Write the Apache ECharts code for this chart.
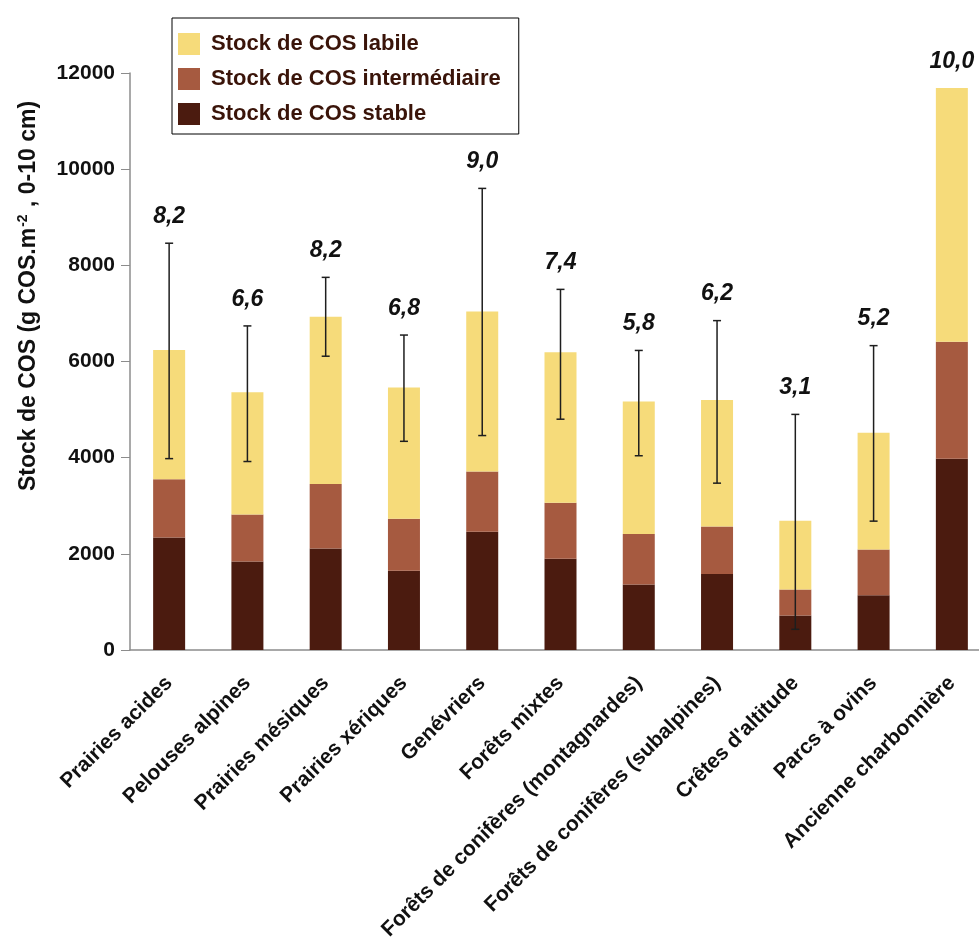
<!DOCTYPE html>
<html>
<head>
<meta charset="utf-8">
<script src="https://cdn.jsdelivr.net/npm/echarts@6/dist/echarts.min.js"></script>
<style>
  html, body { margin: 0; padding: 0; background: #ffffff; overflow: hidden; }
  #chart { width: 1000px; height: 944px; }
</style>
</head>
<body>
<div id="chart"></div>
<script>
// Habitats (catégories de l'axe des abscisses)
const categories = [
  'Prairies acides', 'Pelouses alpines', 'Prairies mésiques', 'Prairies xériques',
  'Genévriers', 'Forêts mixtes', 'Forêts de conifères (montagnardes)',
  'Forêts de conifères (subalpines)', "Crêtes d'altitude", 'Parcs à ovins',
  'Ancienne charbonnière'
];

// Stocks de COS par compartiment (g COS.m-2, 0-10 cm)
const stockStable        = [2340, 1840, 2110, 1650, 2460, 1900, 1360, 1580, 720, 1140, 3980];
const stockIntermediaire = [1210,  980, 1340, 1080, 1250, 1160, 1050,  990, 540,  950, 2430];
const stockLabile        = [2690, 2540, 3480, 2730, 3330, 3130, 2760, 2630, 1430, 2430, 5280];

// Barres d'erreur (bornes basse et haute du stock total)
const errLow  = [3980, 3920, 6110, 4340, 4460, 4800, 4040, 3470, 430, 2680, null];
const errHigh = [8460, 6740, 7750, 6550, 9600, 7500, 6230, 6850, 4900, 6330, null];

// Valeurs annotées au-dessus de chaque barre
const topLabels = ['8,2', '6,6', '8,2', '6,8', '9,0', '7,4', '5,8', '6,2', '3,1', '5,2', '10,0'];

// Graduations de l'axe des ordonnées
const yTicks = { min: 0, max: 12000, interval: 2000 };

const colLabile = '#F6DB7A';
const colInter = '#A65A40';
const colStable = '#4B1B0F';
const ink = '#111111';

const totals = categories.map((_, i) => stockStable[i] + stockIntermediaire[i] + stockLabile[i]);

const errData = categories.map((_, i) => [i, errLow[i], errHigh[i]]).filter(d => d[1] != null);

const labelData = categories.map((_, i) => ({
  value: [i, errHigh[i] != null ? errHigh[i] : totals[i]],
  name: topLabels[i]
}));

const chart = echarts.init(document.getElementById('chart'), null, { renderer: 'canvas' });

const option = {
  backgroundColor: '#ffffff',
  animation: false,
  textStyle: { fontFamily: 'Liberation Sans, Arial, sans-serif' },
  legend: {
    orient: 'vertical',
    left: 172,
    top: 18,
    padding: [15, 18, 9, 6],
    itemWidth: 22,
    itemHeight: 22,
    itemGap: 13,
    borderColor: '#000',
    borderWidth: 1,
    icon: 'rect',
    data: ['Stock de COS labile', 'Stock de COS intermédiaire', 'Stock de COS stable'],
    textStyle: { fontSize: 22, fontWeight: 'bold', color: '#3a1409', padding: [0, 0, 0, 6] }
  },
  graphic: [
    {
      type: 'text',
      x: 29,
      y: 296,
      rotation: Math.PI / 2,
      style: {
        text: '{t|Stock de COS (g COS.m}{s|-2}{t| , 0-10 cm)}',
        align: 'center',
        verticalAlign: 'middle',
        rich: {
          t: { fontSize: 23, fontWeight: 'bold', fill: ink, fontFamily: 'Liberation Sans, Arial, sans-serif' },
          s: { fontSize: 14, fontWeight: 'bold', fill: ink, fontFamily: 'Liberation Sans, Arial, sans-serif', verticalAlign: 'top', padding: [0, 1, 12, 1] }
        }
      }
    }
  ],
  grid: { left: 130, top: 73, width: 861, height: 577, containLabel: false },
  xAxis: {
    type: 'category',
    data: categories,
    axisLine: { lineStyle: { color: '#8c8c8c', width: 1.5 } },
    axisTick: { show: false },
    axisLabel: {
      rotate: 45,
      interval: 0,
      margin: 30,
      fontSize: 21,
      fontWeight: 'bold',
      color: ink
    }
  },
  yAxis: {
    type: 'value',
    min: yTicks.min,
    max: yTicks.max,
    interval: yTicks.interval,
    splitLine: { show: false },
    axisLine: { show: true, lineStyle: { color: '#8c8c8c', width: 1.5 } },
    axisTick: { show: true, length: 9, inside: false, lineStyle: { color: '#8c8c8c' } },
    axisLabel: {
      fontSize: 21, fontWeight: 'bold', color: ink, margin: 15,
      formatter: v => String(v)
    }
  },
  series: [
    {
      name: 'Stock de COS stable', type: 'bar', stack: 'cos', barWidth: 32,
      itemStyle: { color: colStable }, data: stockStable
    },
    {
      name: 'Stock de COS intermédiaire', type: 'bar', stack: 'cos', barWidth: 32,
      itemStyle: { color: colInter }, data: stockIntermediaire
    },
    {
      name: 'Stock de COS labile', type: 'bar', stack: 'cos', barWidth: 32,
      itemStyle: { color: colLabile }, data: stockLabile
    },
    {
      name: 'erreur', type: 'custom', z: 10,
      data: errData,
      renderItem: function (params, api) {
        const x = api.value(0);
        const lo = api.coord([x, api.value(1)]);
        const hi = api.coord([x, api.value(2)]);
        const half = 4;
        const style = { stroke: '#1e1e1e', lineWidth: 1.5 };
        return {
          type: 'group',
          children: [
            { type: 'line', shape: { x1: hi[0], y1: hi[1], x2: lo[0], y2: lo[1] }, style: style },
            { type: 'line', shape: { x1: hi[0] - half, y1: hi[1], x2: hi[0] + half, y2: hi[1] }, style: style },
            { type: 'line', shape: { x1: lo[0] - half, y1: lo[1], x2: lo[0] + half, y2: lo[1] }, style: style }
          ]
        };
      }
    },
    {
      name: 'annotations', type: 'scatter', z: 11,
      symbolSize: 0,
      data: labelData,
      silent: true,
      itemStyle: { opacity: 1, color: 'rgba(0,0,0,0)' },
      label: {
        show: true,
        position: 'top',
        distance: 15,
        formatter: p => p.name,
        fontSize: 23,
        fontWeight: 'bold',
        fontStyle: 'italic',
        color: ink,
        opacity: 1
      }
    }
  ]
};

chart.setOption(option);
</script>
</body>
</html>
